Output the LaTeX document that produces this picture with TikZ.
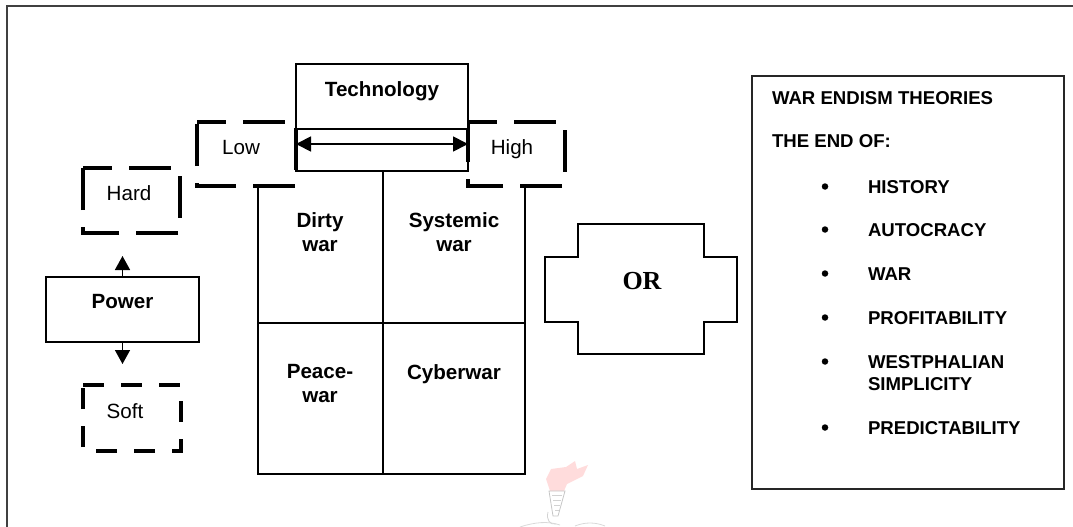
\documentclass[tikz,border=0pt]{standalone}
\usepackage{fontspec}
\setmainfont{Liberation Sans}
\newfontfamily\seriffont{Liberation Serif}
\usetikzlibrary{arrows.meta,calc}
\begin{document}
\begin{tikzpicture}[x=1pt,y=-1pt,
  every node/.style={inner sep=0pt, outer sep=0pt},
  frameline/.style={draw=black!75, line width=2pt},
  solidbox/.style={draw, rectangle, line width=1.5pt},
  plainbox/.style={rectangle},
  longdash/.style={line width=4.2pt, dash pattern=on 42pt off 17pt, dash phase=13pt},
  shortdash/.style={line width=4.2pt, dash pattern=on 21pt off 17pt},
  regtext/.style={font=\fontsize{20.6}{24.6}\selectfont, anchor=base},
  boldtext/.style={font=\fontsize{20.6}{24.6}\selectfont\bfseries, anchor=base, align=center},
  listtext/.style={font=\fontsize{18.6}{21.6}\selectfont\bfseries, anchor=base west, align=left},
  bulletdot/.style={circle, fill, minimum size=6.5pt},
  gridline/.style={line width=1.6pt},
  uptip/.style={-{Triangle[length=14pt,width=15pt]}, line width=1.5pt},
  bothtips/.style={{Triangle[length=15pt,width=15pt]}-{Triangle[length=15pt,width=15pt]}, line width=1.8pt}
]
\useasboundingbox (0,0) rectangle (1073,527);

% outer frame (runs off the page to the right and below)
\draw[frameline] (7,527) -- (7,6) -- (1073,6);

% dashed category boxes
\node[plainbox, minimum width=99pt, minimum height=64pt] (low) at (246.5,154) {};
\node[plainbox, minimum width=97pt, minimum height=64pt] (high) at (516.5,154) {};
\node[plainbox, minimum width=97pt, minimum height=65pt] (hard) at (131.5,200.5) {};
\node[plainbox, minimum width=98pt, minimum height=66pt] (soft) at (132,418) {};
\draw[longdash] (low.north west) -- (low.north east) -- (low.south east) -- (low.south west) -- cycle;
\draw[longdash] (high.north west) -- (high.north east) -- (high.south east) -- (high.south west) -- cycle;
\draw[longdash] (hard.north west) -- (hard.north east) -- (hard.south east) -- (hard.south west) -- cycle;
\draw[shortdash] (soft.north west) -- (soft.north east) -- (soft.south east) -- (soft.south west) -- cycle;
\node[regtext] (lowtext) at (241,154) {Low};
\node[regtext] (hightext) at (512,154) {High};
\node[regtext] (hardtext) at (129,200.7) {Hard};
\node[regtext] (softtext) at (125,418) {Soft};

% technology axis
\node[solidbox, fill=white, minimum width=172pt, minimum height=65pt] (tech) at (382,96.5) {};
\node[boldtext] (techtext) at (382,96) {Technology};
\node[rectangle, draw, line width=1.5pt, minimum width=172pt, minimum height=42pt] (scale) at (382,150) {};
\draw[bothtips] ([yshift=6pt]scale.west) -- ([yshift=6pt]scale.east);

% four kinds of war (two-line labels are placed by their last baseline)
\node[plainbox, minimum width=125pt, minimum height=137pt] (dirty) at (320.5,254.5) {};
\node[plainbox, minimum width=142pt, minimum height=137pt] (systemic) at (454,254.5) {};
\node[plainbox, minimum width=125pt, minimum height=151pt] (peace) at (320.5,398.5) {};
\node[plainbox, minimum width=142pt, minimum height=151pt] (cyber) at (454,398.5) {};
\draw[gridline] (dirty.north west) -- (peace.south west) -- (cyber.south east) -- (systemic.north east);
\draw[gridline] (dirty.south west) -- (systemic.south east);
\draw[gridline] (scale.south -| dirty.east) -- (peace.south east);
\node[boldtext] (dirtytext) at (320,251.7) {Dirty\\war};
\node[boldtext] (systemictext) at (454,251.7) {Systemic\\war};
\node[boldtext] (peacetext) at (320,402.6) {Peace-\\war};
\node[boldtext] (cybertext) at (454,379) {Cyberwar};

% power axis
\node[solidbox, minimum width=153pt, minimum height=65pt] (power) at (122.5,309.5) {};
\node[boldtext] (powertext) at (122.5,308) {Power};
\coordinate (powerup) at (122.5,256);
\coordinate (powerdown) at (122.5,364);
\draw[uptip] (power.north) -- (powerup);
\draw[uptip] (power.south) -- (powerdown);

% OR cross
\draw[line width=1.5pt] (578,224) -- (704,224) -- (704,257) -- (737,257) -- (737,322) -- (704,322)
  -- (704,354) -- (578,354) -- (578,322) -- (545,322) -- (545,257) -- (578,257) -- cycle;
\node[font=\seriffont\bfseries\fontsize{26}{30}\selectfont, anchor=base] (ortext) at (642,289) {OR};

% theories list
\node[solidbox, draw=black!85, minimum width=312pt, minimum height=413pt] (theories) at (908,282.5) {};
\node[listtext] (title) at (772,104) {WAR ENDISM THEORIES};
\node[listtext] (endof) at (772,147) {THE END OF:};
\node[listtext] (i1) at (868,193) {HISTORY};
\node[listtext] (i2) at (868,236) {AUTOCRACY};
\node[listtext] (i3) at (868,280) {WAR};
\node[listtext] (i4) at (868,324) {PROFITABILITY};
\node[listtext] (i5) at (868,390) {WESTPHALIAN\\SIMPLICITY};
\node[listtext] (i6) at (868,434) {PREDICTABILITY};
\node[bulletdot] (b1) at (825,186.5) {};
\node[bulletdot] (b2) at (825,229.5) {};
\node[bulletdot] (b3) at (825,273.5) {};
\node[bulletdot] (b4) at (825,317.5) {};
\node[bulletdot] (b5) at (825,361.5) {};
\node[bulletdot] (b6) at (825,427.5) {};

% faint torch emblem
\fill[red!30, opacity=0.45] (550,491) -- (546,479) -- (551,469) -- (566,467) -- (575,461) -- (577,469)
  -- (588,465) -- (583,476) -- (567,484) -- (564,491) -- cycle;
\draw[gray!45, line width=0.8pt] (549,491) -- (565,491) -- (558,516) -- (553,516) -- cycle;
\draw[gray!35, line width=0.6pt] (552,495) -- (562,495) (553,500) -- (561,500) (554,505) -- (560,505) (555,510) -- (559,510);
\draw[gray!35, line width=0.8pt] (548,512) .. controls (546,520) and (550,525) .. (556,524);
\draw[gray!30, line width=0.8pt] (520,527) .. controls (535,522) and (548,521) .. (560,525);
\draw[gray!30, line width=0.8pt] (575,526) .. controls (585,522) and (595,522) .. (605,526);
\end{tikzpicture}
\end{document}
